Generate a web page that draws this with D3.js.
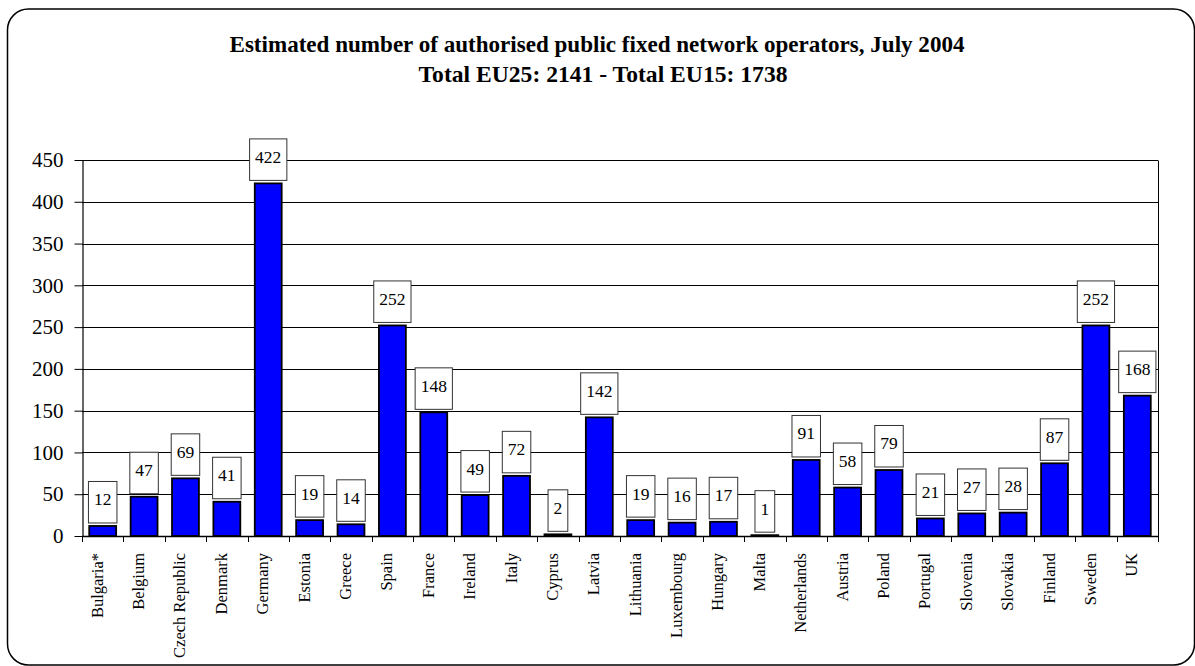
<!DOCTYPE html>
<html>
<head>
<meta charset="utf-8">
<script src="https://cdn.jsdelivr.net/npm/d3@7"></script>
<style>
  html, body { margin: 0; padding: 0; background: #fff; }
  svg { display: block; }
</style>
</head>
<body>
<svg id="chart" width="1195" height="666"></svg>
<script>
// Chart data
const titleLines = [
  "Estimated number of authorised public fixed network operators, July 2004",
  "Total EU25: 2141 - Total EU15: 1738"
];
const countries = [
  "Bulgaria*", "Belgium", "Czech Republic", "Denmark", "Germany", "Estonia",
  "Greece", "Spain", "France", "Ireland", "Italy", "Cyprus", "Latvia",
  "Lithuania", "Luxembourg", "Hungary", "Malta", "Netherlands", "Austria",
  "Poland", "Portugal", "Slovenia", "Slovakia", "Finland", "Sweden", "UK"
];
const operators = [
  12, 47, 69, 41, 422, 19, 14, 252, 148, 49, 72, 2, 142,
  19, 16, 17, 1, 91, 58, 79, 21, 27, 28, 87, 252, 168
];
const yTicks = [0, 50, 100, 150, 200, 250, 300, 350, 400, 450];

const data = countries.map((c, i) => ({ country: c, value: operators[i] }));

const SERIF = "'Liberation Serif', 'Times New Roman', Times, serif";

const svg = d3.select("#chart");
const plot = { left: 82, right: 1158, top: 160, bottom: 536 };

// Outer rounded frame
svg.append("rect")
  .attr("x", 7.5).attr("y", 9)
  .attr("width", 1187).attr("height", 656)
  .attr("rx", 21).attr("ry", 21)
  .attr("fill", "#fff")
  .attr("stroke", "#000").attr("stroke-width", 1.5);

// Title
const title = svg.append("g");
title.append("text")
  .attr("x", 597).attr("y", 52)
  .attr("text-anchor", "middle")
  .attr("textLength", 735).attr("lengthAdjust", "spacingAndGlyphs")
  .style("font-family", SERIF).style("font-weight", "bold").style("font-size", "22.5px")
  .text(titleLines[0]);
title.append("text")
  .attr("x", 603).attr("y", 82)
  .attr("text-anchor", "middle")
  .attr("textLength", 369).attr("lengthAdjust", "spacingAndGlyphs")
  .style("font-family", SERIF).style("font-weight", "bold").style("font-size", "22.5px")
  .text(titleLines[1]);

// Scales
const slot = d3.scaleBand()
  .domain(countries)
  .range([plot.left, plot.right])
  .padding(0);
const x = d3.scaleBand()
  .domain(countries)
  .range([plot.left, plot.right])
  .paddingInner(0.35)
  .paddingOuter(0.175);
const y = d3.scaleLinear()
  .domain([0, 450])
  .range([plot.bottom, plot.top]);

// Horizontal gridlines
svg.append("g")
  .selectAll("line")
  .data(yTicks.filter(v => v > 0))
  .join("line")
  .attr("x1", plot.left).attr("x2", plot.right)
  .attr("y1", d => Math.round(y(d)) + 0.5)
  .attr("y2", d => Math.round(y(d)) + 0.5)
  .attr("stroke", "#000").attr("stroke-width", 1);

// Right edge of the plot area
svg.append("line")
  .attr("x1", plot.right + 0.5).attr("x2", plot.right + 0.5)
  .attr("y1", Math.round(y(450)) + 0.5).attr("y2", plot.bottom)
  .attr("stroke", "#000");

// Y axis
const yAxis = svg.append("g")
  .attr("transform", `translate(${plot.left + 0.5},0)`)
  .call(d3.axisLeft(y).tickValues(yTicks).tickSize(8).tickPadding(11).tickSizeOuter(0));
yAxis.attr("font-family", null).attr("font-size", null);
yAxis.select(".domain").attr("stroke", "#000").attr("stroke-width", 1.2);
yAxis.selectAll(".tick line").attr("stroke", "#000");
yAxis.selectAll(".tick text")
  .attr("fill", "#000")
  .style("font-family", SERIF)
  .style("font-size", "21px");

// Bars
svg.append("g")
  .selectAll("rect")
  .data(data)
  .join("rect")
  .attr("x", d => x(d.country))
  .attr("width", x.bandwidth())
  .attr("y", d => y(d.value))
  .attr("height", d => y(0) - y(d.value))
  .attr("fill", "#0000FF")
  .attr("stroke", "#000")
  .attr("stroke-width", 1.8);

// X axis line and boundary ticks
const xAxis = svg.append("g");
xAxis.append("line")
  .attr("x1", plot.left).attr("x2", plot.right + 1)
  .attr("y1", plot.bottom + 0.5).attr("y2", plot.bottom + 0.5)
  .attr("stroke", "#000").attr("stroke-width", 1.3);
const boundaries = countries.map(c => slot(c)).concat([plot.right]);
xAxis.selectAll(".bt")
  .data(boundaries)
  .join("line")
  .attr("class", "bt")
  .attr("x1", d => Math.round(d) + 0.5).attr("x2", d => Math.round(d) + 0.5)
  .attr("y1", plot.bottom).attr("y2", plot.bottom + 6)
  .attr("stroke", "#000");

// Category labels, rotated
xAxis.selectAll(".cl")
  .data(countries)
  .join("text")
  .attr("class", "cl")
  .attr("transform", d => `translate(${slot(d) + slot.bandwidth() / 2},553) rotate(-90)`)
  .attr("text-anchor", "end")
  .attr("fill", "#000")
  .style("font-family", SERIF)
  .style("font-size", "16.5px")
  .text(d => d);

// Value labels in boxes above each bar
const labels = svg.append("g")
  .selectAll("g")
  .data(data)
  .join("g")
  .attr("transform", d => `translate(${x(d.country) + x.bandwidth() / 2},${y(d.value) - 3})`);
labels.append("text")
  .attr("text-anchor", "middle")
  .attr("y", -17.5)
  .attr("fill", "#000")
  .style("font-family", SERIF)
  .style("font-size", "17.5px")
  .text(d => d.value);
labels.each(function () {
  const g = d3.select(this);
  const w = g.select("text").node().getComputedTextLength() + 11;
  g.insert("rect", "text")
    .attr("x", -w / 2).attr("y", -41.5)
    .attr("width", w).attr("height", 41.5)
    .attr("fill", "#fff")
    .attr("stroke", "#333").attr("stroke-width", 1);
});
</script>
</body>
</html>
